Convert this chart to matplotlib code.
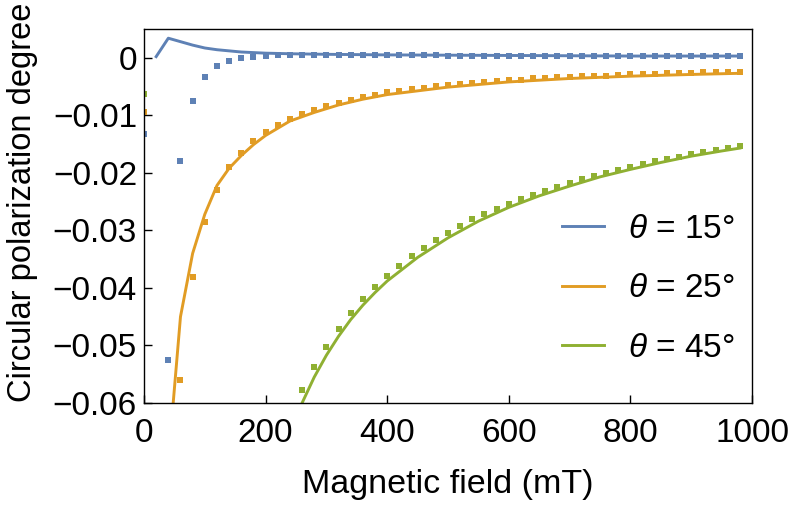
import numpy as np
import matplotlib; matplotlib.use('Agg')
import matplotlib.pyplot as plt

plt.rcParams['font.family'] = ['Liberation Sans', 'DejaVu Sans']
plt.rcParams['mathtext.fontset'] = 'custom'
plt.rcParams['mathtext.it'] = 'Liberation Sans:italic'
plt.rcParams['mathtext.rm'] = 'Liberation Sans'

nan = np.nan

# measured points (squares), field sampled every 20 mT from 0 to 980
field_pts = np.arange(0, 1000, 20)
pts_15 = [-0.0133, nan, -0.0525, -0.0180, -0.0075, -0.0034, -0.0015, -0.0006, -0.0001, 0.0002,
          0.0003, 0.0004, 0.0004, 0.0004, 0.0004, 0.0004, 0.0004, 0.0004, 0.0004, 0.0004,
          0.0004, 0.0004, 0.0004, 0.0004, 0.0004, 0.0003, 0.0003, 0.0003, 0.0003, 0.0003,
          0.0003, 0.0003, 0.0003, 0.0003, 0.0003, 0.0003, 0.0003, 0.0003, 0.0003, 0.0003,
          0.0003, 0.0003, 0.0003, 0.0003, 0.0003, 0.0003, 0.0003, 0.0003, 0.0003, 0.0003]
pts_25 = [-0.0095, nan, nan, -0.0560, -0.0381, -0.0286, -0.0229, -0.0190, -0.0166, -0.0145,
          -0.0129, -0.0117, -0.0106, -0.0098, -0.0091, -0.0084, -0.0078, -0.0073, -0.0069, -0.0064,
          -0.0060, -0.0057, -0.0054, -0.0052, -0.0049, -0.0047, -0.0045, -0.0043, -0.0042, -0.0040,
          -0.0039, -0.0038, -0.0036, -0.0035, -0.0034, -0.0033, -0.0032, -0.0031, -0.0031, -0.0030,
          -0.0029, -0.0028, -0.0028, -0.0027, -0.0027, -0.0026, -0.0025, -0.0025, -0.0024, -0.0024]
pts_45 = [-0.0063, nan, nan, nan, nan, nan, nan, nan, nan, nan,
          nan, nan, nan, -0.0577, -0.0537, -0.0502, -0.0472, -0.0444, -0.0420, -0.0399,
          -0.0380, -0.0362, -0.0345, -0.0330, -0.0316, -0.0304, -0.0292, -0.0281, -0.0271, -0.0262,
          -0.0254, -0.0246, -0.0238, -0.0231, -0.0224, -0.0218, -0.0211, -0.0206, -0.0200, -0.0195,
          -0.0190, -0.0185, -0.0180, -0.0176, -0.0172, -0.0168, -0.0164, -0.0160, -0.0157, -0.0154]

# theory curves
field_15 = [20, 40, 60, 80, 100, 120, 140, 160, 180, 200, 240, 300, 400, 600, 800, 980]
line_15 = [0.0002, 0.0034, 0.0028, 0.0022, 0.0017, 0.0014, 0.0012, 0.0010, 0.0009, 0.0008,
           0.0007, 0.0006, 0.0005, 0.0004, 0.0003, 0.0003]
field_25 = [40, 60, 80, 100, 120, 140, 160, 180, 200, 240, 280, 320, 360, 400, 500, 600, 700, 800, 900, 980]
line_25 = [-0.0700, -0.0450, -0.0340, -0.0272, -0.0222, -0.0192, -0.0170, -0.0151, -0.0135, -0.0110,
           -0.0095, -0.0082, -0.0072, -0.0064, -0.0051, -0.0042, -0.0036, -0.0032, -0.0029, -0.0027]
field_45 = [240, 260, 280, 300, 320, 340, 360, 380, 400, 450, 500, 550, 600, 650, 700, 750, 800, 850, 900, 950, 980]
line_45 = [-0.0660, -0.0600, -0.0555, -0.0517, -0.0484, -0.0455, -0.0430, -0.0408, -0.0388, -0.0347,
           -0.0313, -0.0284, -0.0260, -0.0240, -0.0223, -0.0207, -0.0194, -0.0182, -0.0171, -0.0162, -0.0157]

labels = [r'$\theta$ = 15°', r'$\theta$ = 25°', r'$\theta$ = 45°']
colors = ['#5E81B5', '#E19C24', '#8FB032']

yticks = [0, -0.01, -0.02, -0.03, -0.04, -0.05, -0.06]
yticklabels = ['0', '−0.01', '−0.02', '−0.03', '−0.04', '−0.05', '−0.06']
xticks = [0, 200, 400, 600, 800, 1000]

fig = plt.figure(figsize=(7.89, 5.07), dpi=100)
ax = fig.add_axes([144/789, 1 - 403/507, 608/789, 374/507])

lines = [(field_15, line_15), (field_25, line_25), (field_45, line_45)]
pts = [pts_15, pts_25, pts_45]
for (fx, fy), p, c, lab in zip(lines, pts, colors, labels):
    ax.plot(field_pts, p, ls='none', marker='s', ms=4.2, color=c, mew=0)
    ax.plot(fx, fy, color=c, lw=2.1, label=lab)

ax.set_xlim(0, 1000)
ax.set_ylim(-0.06, 0.005)
ax.set_xticks(xticks)
ax.set_yticks(yticks)
ax.set_yticklabels(yticklabels)
ax.tick_params(direction='in', length=6, width=1, labelsize=24)
ax.tick_params(axis='x', pad=11)
ax.tick_params(axis='y', pad=5)
for sp in ax.spines.values():
    sp.set_linewidth(1.0)

ax.set_xlabel('Magnetic field (mT)', fontsize=24.5, labelpad=14)
ax.set_ylabel('Circular polarization degree', fontsize=23.5)
ax.yaxis.set_label_coords(-0.175, 0.537)

ax.legend(loc='lower right', bbox_to_anchor=(1.02, 0.025), frameon=False, fontsize=24,
          handlelength=1.25, handletextpad=0.72, labelspacing=0.85)

fig.savefig('out.png', dpi=100)
